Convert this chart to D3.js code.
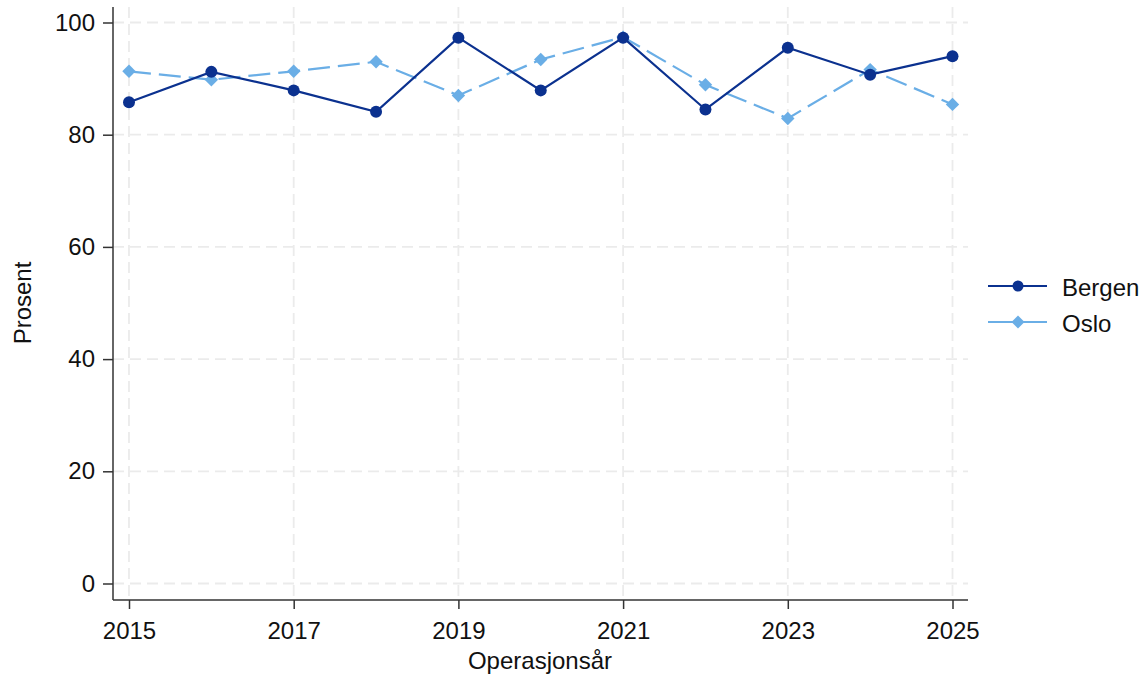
<!DOCTYPE html>
<html><head><meta charset="utf-8">
<script src="https://cdn.jsdelivr.net/npm/d3@7"></script>
<style>
html,body{margin:0;padding:0;background:#fff;}
svg{display:block;font-family:"Liberation Sans",Arial,sans-serif;}
</style></head>
<body>
<svg id="chart" width="1148" height="679"></svg>
<script>
const years = [2015,2016,2017,2018,2019,2020,2021,2022,2023,2024,2025];
const bergen = [85.8,91.2,87.9,84.1,97.3,87.9,97.3,84.5,95.5,90.7,94.0];
const oslo   = [91.3,89.8,91.3,93.0,87.0,93.4,97.4,88.9,82.9,91.6,85.4];
const xTicks = [2015,2017,2019,2021,2023,2025];
const yTicks = [0,20,40,60,80,100];
const seriesNames = ["Bergen","Oslo"];

(function(){
const svg = d3.select("#chart");
const x = d3.scaleLinear().domain([2015,2025]).range([129,952.5]);
const y = d3.scaleLinear().domain([0,100]).range([583.5,22.5]);
const pL = 113, pR = 968, pT = 7, pB = 600;
const gridColor = "#ebebeb";
const c1 = "#0b318f", c2 = "#6aaee6";
const fs = 24;

// gridlines
svg.append("g").selectAll("line").data(yTicks).join("line")
  .attr("x1", pL).attr("x2", pR).attr("y1", d=>y(d)).attr("y2", d=>y(d))
  .attr("stroke", gridColor).attr("stroke-width", 1.8).attr("stroke-dasharray","11,6");
svg.append("g").selectAll("line").data(xTicks).join("line")
  .attr("x1", d=>x(d)).attr("x2", d=>x(d)).attr("y1", pT).attr("y2", pB)
  .attr("stroke", gridColor).attr("stroke-width", 1.8).attr("stroke-dasharray","11,6");

// axes
const yAxis = d3.axisLeft(y).tickValues(yTicks).tickSize(10).tickPadding(8);
const gy = svg.append("g").attr("transform",`translate(${pL},0)`).call(yAxis);
gy.select(".domain").remove();
gy.append("line").attr("x1",0).attr("x2",0).attr("y1",pT).attr("y2",pB).attr("stroke","#333").attr("stroke-width",1.5);
gy.selectAll(".tick line").attr("stroke","#333").attr("stroke-width",1.5);
gy.selectAll(".tick text").attr("font-size",fs).attr("fill","#111").attr("font-family","Liberation Sans, Arial, sans-serif");

const xAxis = d3.axisBottom(x).tickValues(xTicks).tickFormat(d3.format("d")).tickSize(9).tickPadding(13);
const gx = svg.append("g").attr("transform",`translate(0,${pB})`).call(xAxis);
gx.select(".domain").remove();
gx.append("line").attr("x1",pL).attr("x2",pR).attr("y1",0).attr("y2",0).attr("stroke","#333").attr("stroke-width",1.5);
gx.selectAll(".tick line").attr("stroke","#333").attr("stroke-width",1.5);
gx.selectAll(".tick text").attr("font-size",fs).attr("fill","#111").attr("font-family","Liberation Sans, Arial, sans-serif");

// axis titles
svg.append("text").attr("x",540).attr("y",669).attr("text-anchor","middle")
  .attr("font-size",fs).attr("fill","#111").text("Operasjonsår");
svg.append("text").attr("transform","translate(31,303) rotate(-90)").attr("text-anchor","middle")
  .attr("font-size",fs).attr("fill","#111").text("Prosent");

const line = d3.line().x((d,i)=>x(years[i])).y(d=>y(d));
// Oslo
svg.append("path").datum(oslo).attr("d",line).attr("fill","none")
  .attr("stroke",c2).attr("stroke-width",2.2).attr("stroke-dasharray","22,8");
svg.append("g").selectAll("path").data(oslo).join("path")
  .attr("d", d3.symbol(d3.symbolSquare, 90))
  .attr("transform",(d,i)=>`translate(${x(years[i])},${y(d)}) rotate(45)`)
  .attr("fill",c2);
// Bergen
svg.append("path").datum(bergen).attr("d",line).attr("fill","none")
  .attr("stroke",c1).attr("stroke-width",2.2);
svg.append("g").selectAll("circle").data(bergen).join("circle")
  .attr("cx",(d,i)=>x(years[i])).attr("cy",d=>y(d)).attr("r",6).attr("fill",c1);

// legend
const lg = svg.append("g");
const ly = [286,322], cols=[c1,c2];
seriesNames.forEach((n,i)=>{
  lg.append("line").attr("x1",988).attr("x2",1047).attr("y1",ly[i]).attr("y2",ly[i])
    .attr("stroke",cols[i]).attr("stroke-width",2.2);
  if(i===0) lg.append("circle").attr("cx",1018).attr("cy",ly[i]).attr("r",5.5).attr("fill",c1);
  else lg.append("path").attr("d",d3.symbol(d3.symbolSquare,85)).attr("transform",`translate(1018,${ly[i]}) rotate(45)`).attr("fill",c2);
  lg.append("text").attr("x",1062).attr("y",ly[i]+10).attr("font-size",fs).attr("fill","#111").text(n);
});
})();
</script>
</body></html>
